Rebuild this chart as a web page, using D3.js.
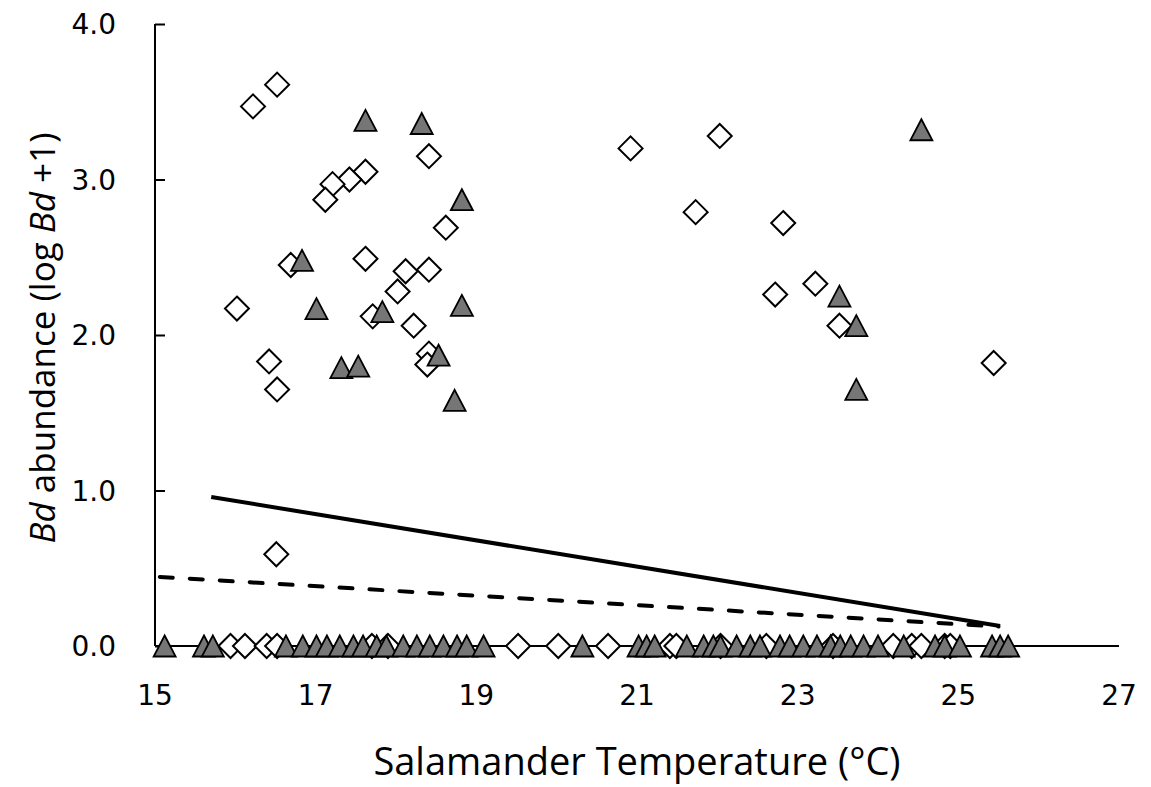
<!DOCTYPE html>
<html>
<head>
<meta charset="utf-8">
<script src="https://cdn.jsdelivr.net/npm/d3@7"></script>
<style>
  body { margin: 0; background: #fff; }
  svg { display: block; }
</style>
</head>
<body>
<div id="chart"></div>
<script>
// open diamonds (x = temperature, y = log Bd + 1)
var diamondX = [16.52, 16.22, 18.41, 17.62, 17.42, 17.21, 17.12, 18.62, 16.69, 17.62, 18.12, 18.41,
	18.02, 16.02, 17.71, 18.22, 16.42, 18.41, 18.39, 16.52, 16.51,
	20.92, 22.03, 21.73, 22.82, 23.22, 22.72, 23.52, 25.44,
	15.94, 16.12, 16.39, 16.52, 17.70, 17.90, 19.52, 20.02, 20.64, 21.41, 21.49, 22.04,
	22.61, 23.44, 24.19, 24.42, 24.54, 24.83, 24.90];
var diamondY = [3.61, 3.47, 3.15, 3.05, 3.00, 2.97, 2.87, 2.69, 2.45, 2.49, 2.41, 2.42,
	2.28, 2.17, 2.12, 2.06, 1.83, 1.88, 1.81, 1.65, 0.59,
	3.20, 3.28, 2.79, 2.72, 2.33, 2.26, 2.06, 1.82,
	0, 0, 0, 0, 0, 0, 0, 0, 0, 0, 0, 0,
	0, 0, 0, 0, 0, 0, 0];

// grey triangles
var triangleX = [17.62, 18.32, 18.82, 16.83, 17.01, 17.83, 18.82, 17.32, 17.53, 18.53, 18.73,
	24.54, 23.52, 23.73, 23.73,
	15.12, 15.61, 15.72, 16.63, 16.84, 17.01, 17.14, 17.30, 17.47, 17.59, 17.76, 17.88,
	18.09, 18.26, 18.42, 18.59, 18.76, 18.88, 19.09, 20.32, 21.02, 21.12, 21.22, 21.62,
	21.83, 21.95, 22.04, 22.24, 22.41, 22.53, 22.78, 22.90, 23.07, 23.24, 23.41, 23.53,
	23.66, 23.82, 24.00, 24.32, 24.71, 24.83, 25.02, 25.42, 25.52, 25.62];
var triangleY = [3.38, 3.36, 2.87, 2.48, 2.17, 2.15, 2.19, 1.79, 1.80, 1.87, 1.58,
	3.32, 2.25, 2.06, 1.65,
	0, 0, 0, 0, 0, 0, 0, 0, 0, 0, 0, 0,
	0, 0, 0, 0, 0, 0, 0, 0, 0, 0, 0, 0,
	0, 0, 0, 0, 0, 0, 0, 0, 0, 0, 0, 0,
	0, 0, 0, 0, 0, 0, 0, 0, 0, 0];

// fitted lines (start, end)
var solidLineX = [15.70, 25.52];
var solidLineY = [0.958, 0.129];
var dashedLineX = [15.06, 25.50];
var dashedLineY = [0.444, 0.125];

var xTicks = [15, 17, 19, 21, 23, 25, 27];
var yTicks = [0, 1, 2, 3, 4];

var width = 1151, height = 787;
var margin = {left: 155, right: 32, top: 24, bottom: 141};

var svg = d3.select("#chart").append("svg")
	.attr("width", width)
	.attr("height", height);

var x = d3.scaleLinear()
	.domain([15, 27])
	.range([margin.left, width - margin.right]);
var y = d3.scaleLinear()
	.domain([0, 4])
	.range([height - margin.bottom, margin.top]);

var tickFont = "'DejaVu Sans', Verdana, sans-serif";
var titleFont = "'Open Sans', 'Noto Sans', sans-serif";

// y axis, ticks inside
var yAxis = svg.append("g")
	.attr("transform", "translate(" + margin.left + ",0)")
	.call(d3.axisRight(y).tickValues(yTicks).tickSize(10).tickFormat(""));
yAxis.select(".domain").attr("stroke", "#000").attr("stroke-width", 2)
	.attr("d", "M0," + y(4) + "V" + y(0));
yAxis.selectAll(".tick line").attr("stroke", "#000").attr("stroke-width", 2);

svg.append("g").selectAll("text")
	.data(yTicks)
	.enter().append("text")
	.attr("x", 116)
	.attr("y", function(d) { return y(d); })
	.attr("dy", "0.36em")
	.attr("text-anchor", "end")
	.style("font-family", tickFont)
	.style("font-size", "28px")
	.text(d3.format(".1f"));

// x axis
svg.append("line")
	.attr("x1", x(15)).attr("x2", x(27))
	.attr("y1", y(0)).attr("y2", y(0))
	.attr("stroke", "#000").attr("stroke-width", 2);

svg.append("g").selectAll("text")
	.data(xTicks)
	.enter().append("text")
	.attr("x", function(d) { return x(d); })
	.attr("y", 705)
	.attr("text-anchor", "middle")
	.style("font-family", tickFont)
	.style("font-size", "28px")
	.text(d3.format("d"));

// axis titles
svg.append("text")
	.attr("x", x(21))
	.attr("y", 775)
	.attr("text-anchor", "middle")
	.style("font-family", titleFont)
	.style("font-size", "38px")
	.text("Salamander Temperature (°C)");

var yt = svg.append("text")
	.attr("transform", "translate(55,338) rotate(-90)")
	.attr("text-anchor", "middle")
	.style("font-family", titleFont)
	.style("font-size", "35px");
yt.append("tspan").style("font-style", "italic").text("Bd");
yt.append("tspan").text(" abundance (log ");
yt.append("tspan").style("font-style", "italic").text("Bd");
yt.append("tspan").text(" +1)");

// diamonds
var diamondData = diamondX.map(function(d, i) { return [d, diamondY[i]]; });
svg.append("g").selectAll("path")
	.data(diamondData)
	.enter().append("path")
	.attr("transform", function(d) { return "translate(" + x(d[0]) + "," + y(d[1]) + ")"; })
	.attr("d", "M0,-12L12,0L0,12L-12,0Z")
	.attr("fill", "#fff")
	.attr("stroke", "#000")
	.attr("stroke-width", 2);

// triangles
var triData = triangleX.map(function(d, i) { return [d, triangleY[i]]; });
svg.append("g").selectAll("path")
	.data(triData)
	.enter().append("path")
	.attr("transform", function(d) { return "translate(" + x(d[0]) + "," + y(d[1]) + ")"; })
	.attr("d", "M0,-10.5L11,10.5L-11,10.5Z")
	.attr("fill", "#767676")
	.attr("stroke", "#000")
	.attr("stroke-width", 1.8)
	.attr("stroke-linejoin", "miter");

// fitted lines
var line = d3.line()
	.x(function(d) { return x(d[0]); })
	.y(function(d) { return y(d[1]); });

svg.append("path")
	.datum(solidLineX.map(function(d, i) { return [d, solidLineY[i]]; }))
	.attr("d", line)
	.attr("fill", "none")
	.attr("stroke", "#000")
	.attr("stroke-width", 4);

svg.append("path")
	.datum(dashedLineX.map(function(d, i) { return [d, dashedLineY[i]]; }))
	.attr("d", line)
	.attr("fill", "none")
	.attr("stroke", "#000")
	.attr("stroke-width", 4)
	.attr("stroke-dasharray", "13,17")
	.attr("stroke-linecap", "round");
</script>
</body>
</html>
